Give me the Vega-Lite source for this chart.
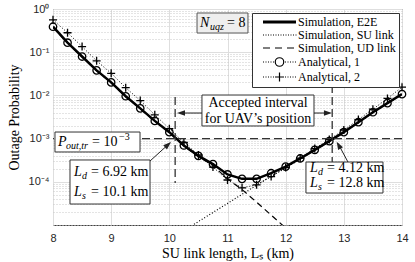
{
  "$schema": "https://vega.github.io/schema/vega-lite/v6.json",
  "width": 349,
  "height": 216,
  "autosize": {"type": "none"},
  "padding": {"left": 53, "top": 9, "right": 13, "bottom": 37},
  "background": "white",
  "config": {"view": {"stroke": "#404040", "strokeWidth": 1}, "font": "Liberation Serif"},
  "datasets": {
    "curves": [
      {"x": 8, "series": "Simulation, E2E", "p": 0.389},
      {"x": 8.25, "series": "Simulation, E2E", "p": 0.166},
      {"x": 8.5, "series": "Simulation, E2E", "p": 0.0794},
      {"x": 8.75, "series": "Simulation, E2E", "p": 0.038},
      {"x": 9, "series": "Simulation, E2E", "p": 0.02},
      {"x": 9.25, "series": "Simulation, E2E", "p": 0.00955},
      {"x": 9.5, "series": "Simulation, E2E", "p": 0.00501},
      {"x": 9.75, "series": "Simulation, E2E", "p": 0.00257},
      {"x": 10, "series": "Simulation, E2E", "p": 0.00141},
      {"x": 10.25, "series": "Simulation, E2E", "p": 0.000692},
      {"x": 10.5, "series": "Simulation, E2E", "p": 0.000398},
      {"x": 10.75, "series": "Simulation, E2E", "p": 0.000257},
      {"x": 11, "series": "Simulation, E2E", "p": 0.000148},
      {"x": 11.25, "series": "Simulation, E2E", "p": 0.000117},
      {"x": 11.5, "series": "Simulation, E2E", "p": 0.000117},
      {"x": 11.75, "series": "Simulation, E2E", "p": 0.000158},
      {"x": 12, "series": "Simulation, E2E", "p": 0.000224},
      {"x": 12.25, "series": "Simulation, E2E", "p": 0.000347},
      {"x": 12.5, "series": "Simulation, E2E", "p": 0.00055},
      {"x": 12.75, "series": "Simulation, E2E", "p": 0.000871},
      {"x": 13, "series": "Simulation, E2E", "p": 0.00141},
      {"x": 13.25, "series": "Simulation, E2E", "p": 0.0024},
      {"x": 13.5, "series": "Simulation, E2E", "p": 0.00407},
      {"x": 13.75, "series": "Simulation, E2E", "p": 0.00661},
      {"x": 14, "series": "Simulation, E2E", "p": 0.0107},

      {"x": 10.25, "series": "Simulation, SU link", "p": 0.00000741},
      {"x": 10.5, "series": "Simulation, SU link", "p": 0.000012},
      {"x": 10.75, "series": "Simulation, SU link", "p": 0.0000195},
      {"x": 11, "series": "Simulation, SU link", "p": 0.0000316},
      {"x": 11.25, "series": "Simulation, SU link", "p": 0.0000513},
      {"x": 11.5, "series": "Simulation, SU link", "p": 0.0000832},
      {"x": 11.75, "series": "Simulation, SU link", "p": 0.000135},
      {"x": 12, "series": "Simulation, SU link", "p": 0.000209},
      {"x": 12.25, "series": "Simulation, SU link", "p": 0.000339},
      {"x": 12.5, "series": "Simulation, SU link", "p": 0.000537},
      {"x": 12.75, "series": "Simulation, SU link", "p": 0.000851},
      {"x": 13, "series": "Simulation, SU link", "p": 0.00138},
      {"x": 13.25, "series": "Simulation, SU link", "p": 0.00234},
      {"x": 13.5, "series": "Simulation, SU link", "p": 0.00398},
      {"x": 13.75, "series": "Simulation, SU link", "p": 0.00646},
      {"x": 14, "series": "Simulation, SU link", "p": 0.0105},

      {"x": 8, "series": "Simulation, UD link", "p": 0.38},
      {"x": 8.25, "series": "Simulation, UD link", "p": 0.162},
      {"x": 8.5, "series": "Simulation, UD link", "p": 0.0776},
      {"x": 8.75, "series": "Simulation, UD link", "p": 0.0372},
      {"x": 9, "series": "Simulation, UD link", "p": 0.0195},
      {"x": 9.25, "series": "Simulation, UD link", "p": 0.00933},
      {"x": 9.5, "series": "Simulation, UD link", "p": 0.0049},
      {"x": 9.75, "series": "Simulation, UD link", "p": 0.00251},
      {"x": 10, "series": "Simulation, UD link", "p": 0.00138},
      {"x": 10.25, "series": "Simulation, UD link", "p": 0.000676},
      {"x": 10.5, "series": "Simulation, UD link", "p": 0.00038},
      {"x": 10.75, "series": "Simulation, UD link", "p": 0.00024},
      {"x": 11, "series": "Simulation, UD link", "p": 0.000117},
      {"x": 11.25, "series": "Simulation, UD link", "p": 0.0000661},
      {"x": 11.5, "series": "Simulation, UD link", "p": 0.0000339},
      {"x": 11.75, "series": "Simulation, UD link", "p": 0.000017},
      {"x": 12, "series": "Simulation, UD link", "p": 0.00000851},
      {"x": 12.25, "series": "Simulation, UD link", "p": 0.00000427},

      {"x": 8, "series": "Analytical, 1", "p": 0.389},
      {"x": 8.25, "series": "Analytical, 1", "p": 0.166},
      {"x": 8.5, "series": "Analytical, 1", "p": 0.0794},
      {"x": 8.75, "series": "Analytical, 1", "p": 0.038},
      {"x": 9, "series": "Analytical, 1", "p": 0.02},
      {"x": 9.25, "series": "Analytical, 1", "p": 0.00955},
      {"x": 9.5, "series": "Analytical, 1", "p": 0.00501},
      {"x": 9.75, "series": "Analytical, 1", "p": 0.00257},
      {"x": 10, "series": "Analytical, 1", "p": 0.00141},
      {"x": 10.25, "series": "Analytical, 1", "p": 0.000692},
      {"x": 10.5, "series": "Analytical, 1", "p": 0.000398},
      {"x": 10.75, "series": "Analytical, 1", "p": 0.000257},
      {"x": 11, "series": "Analytical, 1", "p": 0.000148},
      {"x": 11.25, "series": "Analytical, 1", "p": 0.000117},
      {"x": 11.5, "series": "Analytical, 1", "p": 0.000117},
      {"x": 11.75, "series": "Analytical, 1", "p": 0.000158},
      {"x": 12, "series": "Analytical, 1", "p": 0.000224},
      {"x": 12.25, "series": "Analytical, 1", "p": 0.000347},
      {"x": 12.5, "series": "Analytical, 1", "p": 0.00055},
      {"x": 12.75, "series": "Analytical, 1", "p": 0.000871},
      {"x": 13, "series": "Analytical, 1", "p": 0.00141},
      {"x": 13.25, "series": "Analytical, 1", "p": 0.0024},
      {"x": 13.5, "series": "Analytical, 1", "p": 0.00407},
      {"x": 13.75, "series": "Analytical, 1", "p": 0.00661},
      {"x": 14, "series": "Analytical, 1", "p": 0.0107},

      {"x": 8, "series": "Analytical, 2", "p": 0.562},
      {"x": 8.25, "series": "Analytical, 2", "p": 0.282},
      {"x": 8.5, "series": "Analytical, 2", "p": 0.135},
      {"x": 8.75, "series": "Analytical, 2", "p": 0.0631},
      {"x": 9, "series": "Analytical, 2", "p": 0.0324},
      {"x": 9.25, "series": "Analytical, 2", "p": 0.0151},
      {"x": 9.5, "series": "Analytical, 2", "p": 0.00759},
      {"x": 9.75, "series": "Analytical, 2", "p": 0.00355},
      {"x": 10, "series": "Analytical, 2", "p": 0.0017},
      {"x": 10.25, "series": "Analytical, 2", "p": 0.000813},
      {"x": 10.5, "series": "Analytical, 2", "p": 0.000417},
      {"x": 10.75, "series": "Analytical, 2", "p": 0.000219},
      {"x": 11, "series": "Analytical, 2", "p": 0.00011},
      {"x": 11.25, "series": "Analytical, 2", "p": 0.0000724},
      {"x": 11.5, "series": "Analytical, 2", "p": 0.0000851},
      {"x": 11.75, "series": "Analytical, 2", "p": 0.000132},
      {"x": 12, "series": "Analytical, 2", "p": 0.000214},
      {"x": 12.25, "series": "Analytical, 2", "p": 0.000355},
      {"x": 12.5, "series": "Analytical, 2", "p": 0.000589},
      {"x": 12.75, "series": "Analytical, 2", "p": 0.000955},
      {"x": 13, "series": "Analytical, 2", "p": 0.00158},
      {"x": 13.25, "series": "Analytical, 2", "p": 0.00275},
      {"x": 13.5, "series": "Analytical, 2", "p": 0.00479},
      {"x": 13.75, "series": "Analytical, 2", "p": 0.00851},
      {"x": 14, "series": "Analytical, 2", "p": 0.0155}
    ]
  },
  "layer": [
    {
      "data": {"name": "curves"},
      "transform": [{"filter": "datum.series == 'Simulation, E2E'"}],
      "mark": {"type": "line", "color": "black", "strokeWidth": 2.5, "clip": true},
      "encoding": {
        "x": {
          "field": "x", "type": "quantitative",
          "scale": {"domain": [8, 14], "nice": false, "zero": false},
          "axis": {
            "values": [8, 9, 10, 11, 12, 13, 14], "format": "d",
            "grid": true, "gridColor": "#dedede", "ticks": false, "domain": false,
            "labelFlush": false, "labelPadding": 7,
            "labelFont": "Liberation Sans", "labelFontSize": 11, "labelColor": "#262626",
            "title": "SU link length, Lₛ (km)", "titleFont": "Liberation Serif", "titleFontSize": 14,
            "titleFontWeight": "normal", "titleColor": "black", "titlePadding": 3
          }
        },
        "y": {
          "field": "p", "type": "quantitative",
          "scale": {"type": "log", "domain": [0.00001, 1], "nice": false},
          "axis": {
            "values": [0.00001,0.00002,0.00003,0.00004,0.00005,0.00006,0.00007,0.00008,0.00009,0.0001,0.0002,0.0003,0.0004,0.0005,0.0006,0.0007,0.0008,0.0009,0.001,0.002,0.003,0.004,0.005,0.006,0.007,0.008,0.009,0.01,0.02,0.03,0.04,0.05,0.06,0.07,0.08,0.09,0.1,0.2,0.3,0.4,0.5,0.6,0.7,0.8,0.9,1],
            "labelExpr": "datum.value == 1 ? '10⁰' : datum.value == 0.1 ? '10⁻¹' : datum.value == 0.01 ? '10⁻²' : datum.value == 0.001 ? '10⁻³' : datum.value == 0.0001 ? '10⁻⁴' : ''",
            "labelOverlap": false, "labelBound": false,
            "grid": true,
            "gridColor": {"condition": {"test": "datum.value == 1 || datum.value == 0.1 || datum.value == 0.01 || datum.value == 0.001 || datum.value == 0.0001", "value": "#dedede"}, "value": "#c8c8c8"},
            "gridDash": {"condition": {"test": "datum.value == 1 || datum.value == 0.1 || datum.value == 0.01 || datum.value == 0.001 || datum.value == 0.0001", "value": []}, "value": [1, 2]},
            "ticks": false, "domain": false, "labelPadding": 4,
            "labelFont": "Liberation Sans", "labelFontSize": 11, "labelColor": "#262626",
            "title": "Outage Probability", "titleFont": "Liberation Serif", "titleFontSize": 14,
            "titleFontWeight": "normal", "titleColor": "black", "titlePadding": 7
          }
        }
      }
    },
    {
      "data": {"name": "curves"},
      "transform": [{"filter": "datum.series == 'Simulation, SU link'"}],
      "mark": {"type": "line", "color": "black", "strokeWidth": 1.2, "strokeDash": [1, 2], "clip": true},
      "encoding": {"x": {"field": "x", "type": "quantitative"}, "y": {"field": "p", "type": "quantitative"}}
    },
    {
      "data": {"name": "curves"},
      "transform": [{"filter": "datum.series == 'Simulation, UD link'"}],
      "mark": {"type": "line", "color": "black", "strokeWidth": 1.2, "strokeDash": [6, 4], "clip": true},
      "encoding": {"x": {"field": "x", "type": "quantitative"}, "y": {"field": "p", "type": "quantitative"}}
    },
    {
      "data": {"name": "curves"},
      "transform": [{"filter": "datum.series == 'Analytical, 1'"}],
      "mark": {"type": "line", "color": "black", "strokeWidth": 1, "strokeDash": [1, 2], "clip": true},
      "encoding": {"x": {"field": "x", "type": "quantitative"}, "y": {"field": "p", "type": "quantitative"}}
    },
    {
      "data": {"name": "curves"},
      "transform": [{"filter": "datum.series == 'Analytical, 2'"}],
      "mark": {"type": "line", "color": "black", "strokeWidth": 1, "strokeDash": [1, 2], "clip": true},
      "encoding": {"x": {"field": "x", "type": "quantitative"}, "y": {"field": "p", "type": "quantitative"}}
    },
    {
      "data": {"name": "curves"},
      "transform": [{"filter": "datum.series == 'Analytical, 1'"}],
      "mark": {"type": "point", "shape": "circle", "size": 55, "filled": false, "color": "black", "strokeWidth": 1.3, "opacity": 1},
      "encoding": {"x": {"field": "x", "type": "quantitative"}, "y": {"field": "p", "type": "quantitative"}}
    },
    {
      "data": {"name": "curves"},
      "transform": [{"filter": "datum.series == 'Analytical, 2'"}],
      "mark": {"type": "point", "shape": "M-1,0H1M0,-1V1", "size": 64, "filled": false, "color": "black", "strokeWidth": 1.3, "opacity": 1},
      "encoding": {"x": {"field": "x", "type": "quantitative"}, "y": {"field": "p", "type": "quantitative"}}
    },
    {
      "data": {"values": [{}]},
      "mark": {"type": "rule", "stroke": "#333333", "strokeWidth": 1.3, "strokeDash": [8, 4]},
      "encoding": {"y": {"datum": 0.001}}
    },
    {
      "data": {"values": [{}]},
      "mark": {"type": "rule", "stroke": "#333333", "strokeWidth": 1.3, "strokeDash": [8, 4]},
      "encoding": {"x": {"datum": 10.1}, "y": {"datum": 0.0092}, "y2": {"datum": 0.000094}}
    },
    {
      "data": {"values": [{}]},
      "mark": {"type": "rule", "stroke": "#333333", "strokeWidth": 1.3, "strokeDash": [8, 4]},
      "encoding": {"x": {"datum": 12.8}, "y": {"datum": 0.0174}, "y2": {"datum": 0.0001}}
    },
    {
      "data": {"values": [{}]},
      "mark": {"type": "rect", "fill": "white", "stroke": "#333333", "strokeWidth": 1},
      "encoding": {"x": {"datum": 8.034}, "x2": {"datum": 9.496}, "y": {"datum": 0.00142}, "y2": {"datum": 0.00049}}
    },
    {
      "data": {"values": [{}]},
      "mark": {"type": "rect", "fill": "white", "stroke": "#333333", "strokeWidth": 1},
      "encoding": {"x": {"datum": 8.292}, "x2": {"datum": 9.668}, "y": {"datum": 0.00032}, "y2": {"datum": 0.0000306}}
    },
    {
      "data": {"values": [{}]},
      "mark": {"type": "rect", "fill": "white", "stroke": "#333333", "strokeWidth": 1},
      "encoding": {"x": {"datum": 12.349}, "x2": {"datum": 13.673}, "y": {"datum": 0.000287}, "y2": {"datum": 0.000055}}
    },
    {
      "data": {"values": [{}]},
      "mark": {"type": "rect", "fill": "white", "stroke": "#333333", "strokeWidth": 1},
      "encoding": {"x": {"datum": 10.561}, "x2": {"datum": 12.487}, "y": {"datum": 0.0102}, "y2": {"datum": 0.00196}}
    },
    {
      "data": {"values": [{}]},
      "mark": {"type": "rect", "fill": "#eeeeee", "stroke": "#555555", "strokeWidth": 1},
      "encoding": {"x": {"datum": 10.476}, "x2": {"datum": 11.352}, "y": {"datum": 0.808}, "y2": {"datum": 0.278}}
    },
    {
      "data": {"values": [{}]},
      "mark": {"type": "text", "text": "Accepted interval", "font": "Liberation Serif", "fontSize": 14, "align": "center", "baseline": "middle", "color": "black"},
      "encoding": {"x": {"datum": 11.524}, "y": {"datum": 0.00667}}
    },
    {
      "data": {"values": [{}]},
      "mark": {"type": "text", "text": "for UAV’s position", "font": "Liberation Serif", "fontSize": 14, "align": "center", "baseline": "middle", "color": "black"},
      "encoding": {"x": {"datum": 11.524}, "y": {"datum": 0.00284}}
    },
    {
      "data": {"values": [{}]},
      "mark": {"type": "text", "text": "P", "font": "Liberation Serif", "fontStyle": "italic", "fontSize": 14, "align": "left", "baseline": "middle", "color": "black"},
      "encoding": {"x": {"datum": 8.086}, "y": {"datum": 0.000834}}
    },
    {
      "data": {"values": [{}]},
      "mark": {"type": "text", "text": "out,tr", "font": "Liberation Serif", "fontStyle": "italic", "fontSize": 10, "align": "left", "baseline": "middle", "color": "black", "dx": 8, "dy": 4},
      "encoding": {"x": {"datum": 8.086}, "y": {"datum": 0.000834}}
    },
    {
      "data": {"values": [{}]},
      "mark": {"type": "text", "text": "= 10", "font": "Liberation Serif", "fontSize": 14, "align": "left", "baseline": "middle", "color": "black", "dx": 34},
      "encoding": {"x": {"datum": 8.086}, "y": {"datum": 0.000834}}
    },
    {
      "data": {"values": [{}]},
      "mark": {"type": "text", "text": "−3", "font": "Liberation Serif", "fontSize": 10, "align": "left", "baseline": "middle", "color": "black", "dx": 61, "dy": -5},
      "encoding": {"x": {"datum": 8.086}, "y": {"datum": 0.000834}}
    },
    {
      "data": {"values": [{}]},
      "mark": {"type": "text", "text": "L", "font": "Liberation Serif", "fontStyle": "italic", "fontSize": 14, "align": "left", "baseline": "middle", "color": "black"},
      "encoding": {"x": {"datum": 8.361}, "y": {"datum": 0.000169}}
    },
    {
      "data": {"values": [{}]},
      "mark": {"type": "text", "text": "d", "font": "Liberation Serif", "fontStyle": "italic", "fontSize": 10, "align": "left", "baseline": "middle", "color": "black", "dx": 8, "dy": 4},
      "encoding": {"x": {"datum": 8.361}, "y": {"datum": 0.000169}}
    },
    {
      "data": {"values": [{}]},
      "mark": {"type": "text", "text": "= 6.92 km", "font": "Liberation Serif", "fontSize": 14, "align": "left", "baseline": "middle", "color": "black", "dx": 17},
      "encoding": {"x": {"datum": 8.361}, "y": {"datum": 0.000169}}
    },
    {
      "data": {"values": [{}]},
      "mark": {"type": "text", "text": "L", "font": "Liberation Serif", "fontStyle": "italic", "fontSize": 14, "align": "left", "baseline": "middle", "color": "black"},
      "encoding": {"x": {"datum": 8.361}, "y": {"datum": 0.0000581}}
    },
    {
      "data": {"values": [{}]},
      "mark": {"type": "text", "text": "s", "font": "Liberation Serif", "fontStyle": "italic", "fontSize": 10, "align": "left", "baseline": "middle", "color": "black", "dx": 8, "dy": 4},
      "encoding": {"x": {"datum": 8.361}, "y": {"datum": 0.0000581}}
    },
    {
      "data": {"values": [{}]},
      "mark": {"type": "text", "text": "= 10.1 km", "font": "Liberation Serif", "fontSize": 14, "align": "left", "baseline": "middle", "color": "black", "dx": 17},
      "encoding": {"x": {"datum": 8.361}, "y": {"datum": 0.0000581}}
    },
    {
      "data": {"values": [{}]},
      "mark": {"type": "text", "text": "L", "font": "Liberation Serif", "fontStyle": "italic", "fontSize": 14, "align": "left", "baseline": "middle", "color": "black"},
      "encoding": {"x": {"datum": 12.418}, "y": {"datum": 0.000209}}
    },
    {
      "data": {"values": [{}]},
      "mark": {"type": "text", "text": "d", "font": "Liberation Serif", "fontStyle": "italic", "fontSize": 10, "align": "left", "baseline": "middle", "color": "black", "dx": 8, "dy": 4},
      "encoding": {"x": {"datum": 12.418}, "y": {"datum": 0.000209}}
    },
    {
      "data": {"values": [{}]},
      "mark": {"type": "text", "text": "= 4.12 km", "font": "Liberation Serif", "fontSize": 14, "align": "left", "baseline": "middle", "color": "black", "dx": 17},
      "encoding": {"x": {"datum": 12.418}, "y": {"datum": 0.000209}}
    },
    {
      "data": {"values": [{}]},
      "mark": {"type": "text", "text": "L", "font": "Liberation Serif", "fontStyle": "italic", "fontSize": 14, "align": "left", "baseline": "middle", "color": "black"},
      "encoding": {"x": {"datum": 12.418}, "y": {"datum": 0.0000938}}
    },
    {
      "data": {"values": [{}]},
      "mark": {"type": "text", "text": "s", "font": "Liberation Serif", "fontStyle": "italic", "fontSize": 10, "align": "left", "baseline": "middle", "color": "black", "dx": 8, "dy": 4},
      "encoding": {"x": {"datum": 12.418}, "y": {"datum": 0.0000938}}
    },
    {
      "data": {"values": [{}]},
      "mark": {"type": "text", "text": "= 12.8 km", "font": "Liberation Serif", "fontSize": 14, "align": "left", "baseline": "middle", "color": "black", "dx": 17},
      "encoding": {"x": {"datum": 12.418}, "y": {"datum": 0.0000938}}
    },
    {
      "data": {"values": [{}]},
      "mark": {"type": "text", "text": "N", "font": "Liberation Serif", "fontStyle": "italic", "fontSize": 14, "align": "left", "baseline": "middle", "color": "black"},
      "encoding": {"x": {"datum": 10.527}, "y": {"datum": 0.474}}
    },
    {
      "data": {"values": [{}]},
      "mark": {"type": "text", "text": "uqz", "font": "Liberation Serif", "fontStyle": "italic", "fontSize": 10, "align": "left", "baseline": "middle", "color": "black", "dx": 10, "dy": 4},
      "encoding": {"x": {"datum": 10.527}, "y": {"datum": 0.474}}
    },
    {
      "data": {"values": [{}]},
      "mark": {"type": "text", "text": "= 8", "font": "Liberation Serif", "fontSize": 14, "align": "left", "baseline": "middle", "color": "black", "dx": 27},
      "encoding": {"x": {"datum": 10.527}, "y": {"datum": 0.474}}
    },
    {
      "data": {"values": [{}]},
      "mark": {"type": "rule", "stroke": "#222222", "strokeWidth": 1},
      "encoding": {"x": {"datum": 10.561}, "x2": {"datum": 10.2}, "y": {"datum": 0.00391}, "y2": {"datum": 0.00391}}
    },
    {
      "data": {"values": [{}]},
      "mark": {"type": "point", "shape": "M0,0L-2,-0.7L-2,0.7Z", "size": 64, "filled": true, "color": "#222222", "opacity": 1, "angle": 180},
      "encoding": {"x": {"datum": 10.132}, "y": {"datum": 0.00391}}
    },
    {
      "data": {"values": [{}]},
      "mark": {"type": "rule", "stroke": "#222222", "strokeWidth": 1},
      "encoding": {"x": {"datum": 12.487}, "x2": {"datum": 12.75}, "y": {"datum": 0.00391}, "y2": {"datum": 0.00391}}
    },
    {
      "data": {"values": [{}]},
      "mark": {"type": "point", "shape": "M0,0L-2,-0.7L-2,0.7Z", "size": 64, "filled": true, "color": "#222222", "opacity": 1, "angle": 0},
      "encoding": {"x": {"datum": 12.796}, "y": {"datum": 0.00391}}
    },
    {
      "data": {"values": [{}]},
      "mark": {"type": "rule", "stroke": "#222222", "strokeWidth": 1},
      "encoding": {"x": {"datum": 9.668}, "x2": {"datum": 10.0}, "y": {"datum": 0.000303}, "y2": {"datum": 0.00077}}
    },
    {
      "data": {"values": [{}]},
      "mark": {"type": "point", "shape": "M0,0L-2,-0.7L-2,0.7Z", "size": 64, "filled": true, "color": "#222222", "opacity": 1, "angle": 318},
      "encoding": {"x": {"datum": 10.029}, "y": {"datum": 0.000834}}
    },
    {
      "data": {"values": [{}]},
      "mark": {"type": "rule", "stroke": "#222222", "strokeWidth": 1},
      "encoding": {"x": {"datum": 13.071}, "x2": {"datum": 12.9}, "y": {"datum": 0.000287}, "y2": {"datum": 0.00077}}
    },
    {
      "data": {"values": [{}]},
      "mark": {"type": "point", "shape": "M0,0L-2,-0.7L-2,0.7Z", "size": 64, "filled": true, "color": "#222222", "opacity": 1, "angle": 241},
      "encoding": {"x": {"datum": 12.877}, "y": {"datum": 0.000848}}
    },
    {
      "data": {"name": "curves"},
      "mark": {"type": "point", "color": "black", "filled": false, "opacity": 0},
      "encoding": {
        "x": {"field": "x", "type": "quantitative"},
        "y": {"field": "p", "type": "quantitative"},
        "shape": {
          "field": "series", "type": "nominal",
          "scale": {
            "domain": ["Simulation, E2E", "Simulation, SU link", "Simulation, UD link", "Analytical, 1", "Analytical, 2"],
            "range": [
              "M0.4,-0.2H7M0.4,0H7M0.4,0.2H7",
              "M0.4,0h0.2m0.3,0h0.2m0.3,0h0.2m0.3,0h0.2m0.3,0h0.2m0.3,0h0.2m0.3,0h0.2m0.3,0h0.2m0.3,0h0.2m0.3,0h0.2m0.3,0h0.2m0.3,0h0.2m0.3,0h0.2m0.3,0h0.2",
              "M0.4,0H1.8M2.8,0H4.2M5.2,0H6.6",
              "M0.4,0h0.2m0.3,0h0.2m0.3,0h0.2m0.3,0h0.2m0.3,0h0.2M4.8,0h0.2m0.3,0h0.2m0.3,0h0.2m0.3,0h0.2m0.3,0h0.2M4.55,0A0.85,0.85 0 1,1 2.85,0A0.85,0.85 0 1,1 4.55,0",
              "M0.4,0h0.2m0.3,0h0.2m0.3,0h0.2m0.3,0h0.2m0.3,0h0.2M4.8,0h0.2m0.3,0h0.2m0.3,0h0.2m0.3,0h0.2m0.3,0h0.2M2.8,0H4.6M3.7,-0.9V0.9"
            ]
          },
          "legend": {
            "title": null, "orient": "none", "legendX": 199, "legendY": 4, "padding": 3,
            "fillColor": "white", "strokeColor": "#333333",
            "symbolSize": 100, "symbolStrokeWidth": 1.2, "symbolStrokeColor": "black",
            "symbolFillColor": "transparent", "symbolOpacity": 1,
            "labelFont": "Liberation Serif", "labelFontSize": 12, "labelColor": "black",
            "labelOffset": 31, "rowPadding": 1
          }
        }
      }
    }
  ]
}
